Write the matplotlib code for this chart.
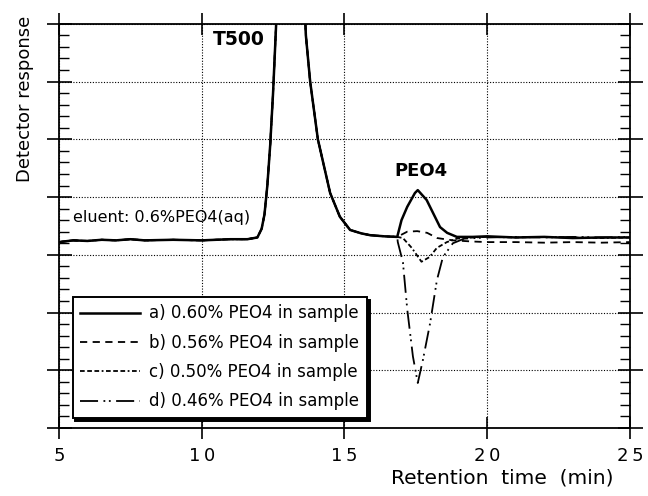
import matplotlib
matplotlib.use("Agg")
import matplotlib.pyplot as plt
import numpy as np

# ---- data ----
# shared T500 region (retention time in min, detector response in arbitrary units)
t500_x = [5.0, 5.5, 6.0, 6.5, 7.0, 7.5, 8.0, 9.0, 10.0, 11.0, 11.6, 11.95, 12.1, 12.2,
          12.3, 12.4, 12.5, 12.6, 12.7, 13.1, 13.55, 13.65, 13.8, 14.07, 14.5, 14.84,
          15.2, 15.6, 15.9, 16.4, 16.85]
t500_y = [3.22, 3.25, 3.24, 3.26, 3.25, 3.27, 3.25, 3.26, 3.25, 3.27, 3.27, 3.30, 3.45, 3.7,
          4.2, 4.9, 5.8, 6.9, 8.0, 9.0, 8.0, 6.8, 6.0, 5.0, 4.07, 3.66,
          3.43, 3.37, 3.34, 3.32, 3.31]

# PEO4 region per sample
a_x = [17.0, 17.2, 17.47, 17.57, 17.88, 18.1, 18.35, 18.6, 18.94, 19.5, 20, 21, 22, 23, 24, 25]
a_y = [3.6, 3.83, 4.07, 4.12, 3.95, 3.73, 3.48, 3.38, 3.31, 3.31, 3.32, 3.30, 3.31, 3.29, 3.30, 3.30]

b_x = [17.2, 17.55, 17.9, 18.25, 18.8, 19.5, 20, 21, 22, 23, 24, 25]
b_y = [3.40, 3.41, 3.38, 3.29, 3.25, 3.23, 3.22, 3.22, 3.21, 3.22, 3.21, 3.22]

c_x = [17.05, 17.36, 17.7, 17.98, 18.24, 18.59, 18.94, 19.5, 20, 21, 22, 23, 24, 25]
c_y = [3.29, 3.12, 2.88, 2.96, 3.12, 3.22, 3.28, 3.30, 3.31, 3.30, 3.31, 3.30, 3.29, 3.30]

d_x = [16.87, 17.05, 17.2, 17.4, 17.57, 17.75, 18.0, 18.24, 18.45, 18.8, 19.2, 20, 21, 22, 23, 24, 25]
d_y = [3.22, 2.87, 2.06, 1.24, 0.78, 1.18, 1.81, 2.56, 2.96, 3.20, 3.28, 3.30, 3.31, 3.30, 3.31, 3.30, 3.31]

labels = ["a) 0.60% PEO4 in sample", "b) 0.56% PEO4 in sample",
          "c) 0.50% PEO4 in sample", "d) 0.46% PEO4 in sample"]
x_ticks = [5, 10, 15, 20, 25]
x_ticklabels = ["5", "1\u20090", "1\u20095", "2\u20090", "2\u20095"]

plt.rcParams['font.family'] = ['DejaVu Sans']

fig = plt.figure(figsize=(6.48, 4.96), dpi=100)
ax = fig.add_axes([0.091, 0.137, 0.881, 0.815])

styles = [
    dict(ls='-', lw=1.8),
    dict(ls=(0, (4, 3)), lw=1.3),
    dict(ls=(0, (2.6, 1.4, 2.6, 1.4, 2.6, 1.4, 1, 1.4)), lw=1.3),
    dict(ls=(0, (10, 3, 1, 2, 1, 3)), lw=1.3),
]
series = [(a_x, a_y), (b_x, b_y), (c_x, c_y), (d_x, d_y)]
for (sx, sy), st, lab in zip(series, styles, labels):
    xx = list(t500_x) + list(sx)
    yy = list(t500_y) + list(sy)
    ax.plot(xx, yy, color='black', label=lab, **st)

ax.set_xlim(5, 25)
ax.set_ylim(0, 7)
ax.set_xticks(x_ticks)
ax.set_xticklabels(x_ticklabels, fontsize=13)
ax.set_yticks(np.arange(0, 8, 1))
ax.set_yticklabels([])
ax.set_yticks(np.arange(0, 7.01, 0.2), minor=True)
ax.grid(True, which='major', color='black', linestyle=(0, (1, 1.5)), linewidth=0.8)

ax.tick_params(axis='y', which='major', direction='inout', length=18, width=1.2,
               left=True, right=True)
ax.tick_params(axis='y', which='minor', direction='in', length=7, width=1.0,
               left=True, right=True)
ax.tick_params(axis='x', which='major', direction='inout', length=16, width=1.2,
               top=True, bottom=True, pad=6)
for sp in ax.spines.values():
    sp.set_linewidth(1.3)

ax.text(10.39, 6.73, "T500", fontsize=13.5, fontweight='bold', va='center', ha='left')
ax.text(17.68, 4.45, "PEO4", fontsize=13, fontweight='bold', va='center', ha='center')
ax.text(5.5, 3.65, "eluent: 0.6%PEO4(aq)", fontsize=11.5, va='center', ha='left')

leg = ax.legend(loc='lower left', bbox_to_anchor=(0.024, 0.025), borderaxespad=0,
                fontsize=12, handlelength=3.6, labelspacing=0.68, fancybox=False,
                shadow={'color': 'black', 'alpha': 1.0}, framealpha=1,
                edgecolor='black', borderpad=0.45, handletextpad=0.55)
leg.get_frame().set_linewidth(1.4)

fig.text(0.038, 0.80, "Detector response", rotation=90, fontsize=13,
         ha='center', va='center')
fig.text(0.946, 0.025, "Retention  time  (min)", fontsize=14.5, ha='right', va='baseline')

fig.savefig("out.png", dpi=100)
